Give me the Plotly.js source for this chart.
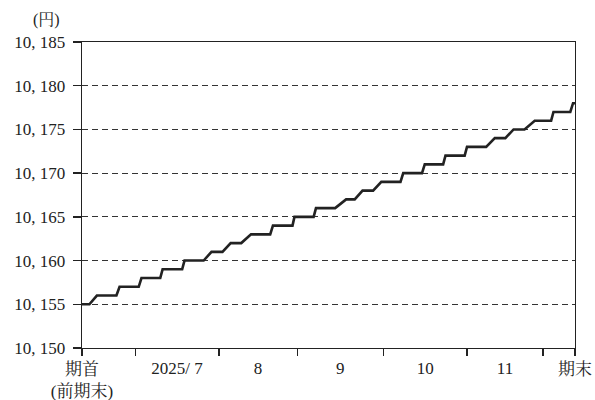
<!DOCTYPE html>
<html>
<head>
<meta charset="utf-8">
<script src="https://cdn.plot.ly/plotly-3.0.1.min.js"></script>
<style>html,body{margin:0;padding:0;background:#fff;}#chart{width:595px;height:400px;}</style>
</head>
<body>
<div id="chart"></div>
<script>
// Step-line vertices (x = trading-day index, y = base price in yen)
const dayIndex = [0, 1.9, 3.8, 8.8, 9.6, 14.5, 15.2, 20.0, 20.6, 25.6, 26.2, 31.1, 33.1, 35.9,
  38.0, 40.7, 43.2, 48.1, 48.8, 53.8, 54.3, 59.2, 59.8, 64.7, 67.5, 69.7, 71.7, 74.4, 76.5,
  81.4, 82.1, 86.9, 87.6, 92.3, 92.9, 97.8, 98.4, 103.3, 105.5, 108.2, 110.3, 113.1, 115.7,
  119.9, 120.5, 124.8, 125.5, 126];
const price = [10155, 10155, 10156, 10156, 10157, 10157, 10158, 10158, 10159, 10159, 10160, 10160,
  10161, 10161, 10162, 10162, 10163, 10163, 10164, 10164, 10165, 10165, 10166, 10166, 10167,
  10167, 10168, 10168, 10169, 10169, 10170, 10170, 10171, 10171, 10172, 10172, 10173, 10173,
  10174, 10174, 10175, 10175, 10176, 10176, 10177, 10177, 10178, 10178];

// Month boundaries (tick marks) and labels
const boundaryTicks = [0, 13.6, 35.0, 55.0, 77.0, 98.4, 117.8, 126];
const boundaryLabels = ["期首<br>(前期末)", "", "", "", "", "", "", "期末"];
const monthCenters = [24.3, 45.0, 66.0, 87.7, 108.1];
const monthLabels = ["2025/ 7", "8", "9", "10", "11"];

const yTicks = [10150, 10155, 10160, 10165, 10170, 10175, 10180, 10185];
const yTickLabels = ["10, 150", "10, 155", "10, 160", "10, 165", "10, 170", "10, 175", "10, 180", "10, 185"];

const FONT = "'Liberation Serif', 'Noto Serif CJK JP', 'Noto Sans CJK JP', serif";
const XR = [0, 126];

const traces = [
  {x: dayIndex, y: price, type: 'scatter', mode: 'lines',
   line: {color: '#222', width: 2.6}, hoverinfo: 'skip', showlegend: false},
  {x: [XR[0], XR[1]], y: [null, null], xaxis: 'x2', type: 'scatter', mode: 'lines',
   showlegend: false, hoverinfo: 'skip'}
];

const layout = {
  width: 595, height: 400,
  margin: {l: 82, r: 20, t: 42, b: 52},
  paper_bgcolor: '#fff', plot_bgcolor: '#fff',
  font: {family: FONT, size: 17, color: '#222'},
  showlegend: false,
  xaxis: {
    range: XR, tickmode: 'array', tickvals: boundaryTicks, ticktext: boundaryLabels,
    ticks: 'outside', ticklen: 7, tickwidth: 1.3, tickcolor: '#222',
    showline: true, linecolor: '#222', linewidth: 1.3, mirror: true,
    showgrid: false, zeroline: false, fixedrange: true, ticklabelstandoff: -2,
    tickfont: {family: FONT, size: 17, color: '#222'}
  },
  xaxis2: {
    range: XR, overlaying: 'x', anchor: 'y', side: 'bottom',
    tickmode: 'array', tickvals: monthCenters, ticktext: monthLabels,
    ticks: 'outside', ticklen: 7, tickcolor: 'rgba(0,0,0,0)',
    showline: false, showgrid: false, zeroline: false, fixedrange: true, ticklabelstandoff: -2,
    tickfont: {family: FONT, size: 17, color: '#222'}
  },
  yaxis: {
    range: [10150, 10185], tickmode: 'array', tickvals: yTicks, ticktext: yTickLabels,
    ticks: 'outside', ticklen: 8, tickwidth: 1.3, tickcolor: '#222',
    showline: true, linecolor: '#222', linewidth: 1.3, mirror: true,
    showgrid: true, gridcolor: '#333', gridwidth: 1, griddash: '6px,4px',
    zeroline: false, fixedrange: true, ticklabelstandoff: 4,
    tickfont: {family: FONT, size: 17, color: '#222'}
  },
  annotations: [
    {text: '(円)', xref: 'paper', yref: 'paper', x: -0.072, y: 1.072,
     xanchor: 'center', yanchor: 'middle', showarrow: false,
     font: {family: FONT, size: 16, color: '#222'}}
  ]
};

Plotly.newPlot('chart', traces, layout, {staticPlot: true, displayModeBar: false});
</script>
</body>
</html>
